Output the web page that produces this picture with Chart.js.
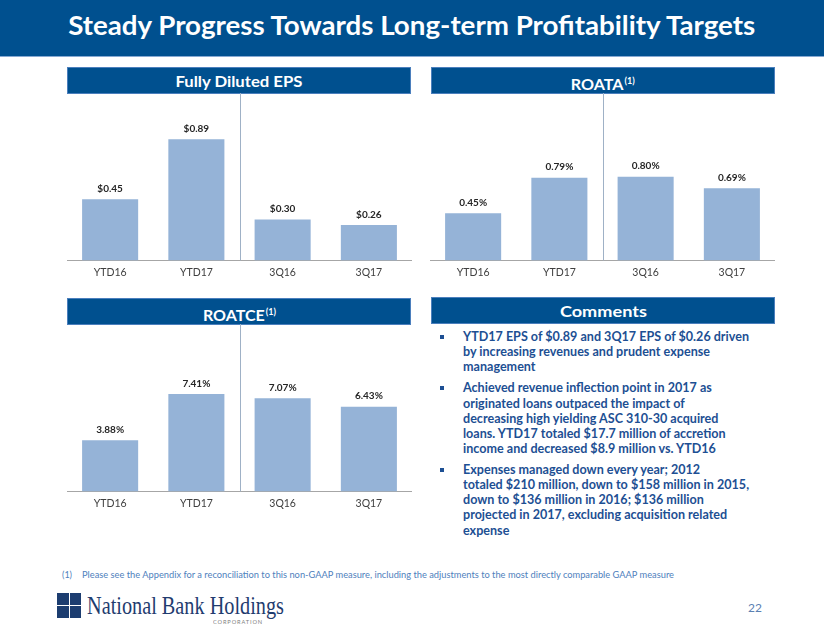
<!DOCTYPE html>
<html>
<head>
<meta charset="utf-8">
<script src="https://cdn.jsdelivr.net/npm/chart.js@4.4.0/dist/chart.umd.min.js"></script>
<style>
  body { margin: 0; width: 824px; height: 637px; background: #fff; position: relative; overflow: hidden; font-family: Lato, "Open Sans", sans-serif; }
  .abs { position: absolute; }
  .fit { display: inline-block; white-space: nowrap; }
  #title { left: 0; top: 0; width: 824px; height: 56px; background: #00508f; border-bottom: 1px solid #86a9d3; text-align: center; color: #fff; font-weight: bold; font-size: 27px; line-height: 50px; }
  .hdr { position: absolute; height: 27px; background: #00508f; border: 1px solid #4b7fbd; box-sizing: border-box; color: #fff; font-weight: bold; font-size: 16px; text-align: center; line-height: 25px; }
  .hdr sup { font-size: 9px; vertical-align: 6px; margin-left: 1px; }
  canvas { position: absolute; }
  #comments { left: 431px; top: 329px; width: 344px; color: #1d4f93; font-weight: bold; font-size: 13px; line-height: 15.1px; }
  #comments .item { position: relative; padding-left: 32px; margin-bottom: 6.2px; }
  #comments .item::before { content: ""; position: absolute; left: 9px; top: 6px; width: 4px; height: 4px; background: #1d4f93; }
  #comments .ln { display: block; white-space: nowrap; transform-origin: left center; }
  .note { color: #4f81bd; font-size: 9px; line-height: 11px; white-space: nowrap; }
  .sq { position: absolute; width: 11.5px; height: 12px; background: #1c3d70; }
</style>
</head>
<body>

<div id="title" class="abs"><span class="fit" data-w="687">Steady Progress Towards Long-term Profitability Targets</span></div>

<div class="hdr" style="left:67px;top:67px;width:344px;"><span class="fit" data-w="127">Fully Diluted EPS</span></div>
<div class="hdr" style="left:431px;top:67px;width:344px;"><span class="fit" data-w="64">ROATA<sup>(1)</sup></span></div>
<div class="hdr" style="left:67px;top:298px;width:344px;"><span class="fit" data-w="73">ROATCE<sup>(1)</sup></span></div>
<div class="hdr" style="left:431px;top:297px;width:344px;"><span class="fit" data-w="87">Comments</span></div>

<canvas id="epsChart" width="345" height="192" style="left:67px;top:93px;"></canvas>
<canvas id="roataChart" width="345" height="192" style="left:430px;top:93px;"></canvas>
<canvas id="roatceChart" width="345" height="192" style="left:67px;top:324px;"></canvas>

<div id="comments" class="abs">
  <div class="item">
    <span class="ln">YTD17 EPS of $0.89 and 3Q17 EPS of $0.26 driven</span>
    <span class="ln">by increasing revenues and prudent expense</span>
    <span class="ln">management</span>
  </div>
  <div class="item">
    <span class="ln">Achieved revenue inflection point in 2017 as</span>
    <span class="ln">originated loans outpaced the impact of</span>
    <span class="ln">decreasing high yielding ASC 310-30 acquired</span>
    <span class="ln">loans. YTD17 totaled $17.7 million of accretion</span>
    <span class="ln">income and decreased $8.9 million vs. YTD16</span>
  </div>
  <div class="item">
    <span class="ln">Expenses managed down every year; 2012</span>
    <span class="ln">totaled $210 million, down to $158 million in 2015,</span>
    <span class="ln">down to $136 million in 2016; $136 million</span>
    <span class="ln">projected in 2017, excluding acquisition related</span>
    <span class="ln">expense</span>
  </div>
</div>

<div class="abs note" style="left:62px;top:569px;">(1)</div>
<div class="abs note" style="left:82px;top:569px;"><span class="fit" data-w="592" style="transform-origin:left center;">Please see the Appendix for a reconciliation to this non-GAAP measure, including the adjustments to the most directly comparable GAAP measure</span></div>

<div class="sq" style="left:57px;top:593px;"></div>
<div class="sq" style="left:69.5px;top:593px;"></div>
<div class="sq" style="left:57px;top:606px;"></div>
<div class="sq" style="left:69.5px;top:606px;"></div>
<div class="abs" style="left:87px;top:593px;font-family:'Liberation Serif',serif;font-size:25px;line-height:25px;color:#1f3c6f;"><span class="fit" data-w="197" style="transform-origin:left center;">National Bank Holdings</span></div>
<div class="abs" style="left:213px;top:618px;font-size:6.5px;line-height:8px;color:#808080;letter-spacing:1px;"><span class="fit" data-w="50" style="transform-origin:left center;">CORPORATION</span></div>
<div class="abs" style="left:748px;top:601px;font-size:12px;line-height:14px;color:#5b80b2;">22</div>

<script>
// Chart data
const categories = ['YTD16', 'YTD17', '3Q16', '3Q17'];
const epsValues = [0.45, 0.89, 0.30, 0.26];
const roataValues = [0.45, 0.79, 0.80, 0.69];
const roatceValues = [3.88, 7.41, 7.07, 6.43];
const epsMax = 1.23;
const roataMax = 1.6;
const roatceMax = 12.72;

// Value labels above the bars
const valueLabels = {
    id: 'valueLabels',
    afterDatasetsDraw(chart, args, opts) {
        const ctx = chart.ctx;
        const meta = chart.getDatasetMeta(0);
        ctx.save();
        ctx.font = 'bold 10px Lato';
        ctx.fillStyle = '#262626';
        ctx.textAlign = 'center';
        ctx.textBaseline = 'middle';
        meta.data.forEach((bar, i) => {
            const v = chart.data.datasets[0].data[i];
            ctx.fillText(opts.prefix + v.toFixed(2) + opts.suffix, bar.x, bar.y - 10.5);
        });
        ctx.restore();
    }
};

// Thin divider between the YTD and quarterly bars
const splitLine = {
    id: 'splitLine',
    beforeDatasetsDraw(chart) {
        const x = chart.scales.x;
        const px = Math.round((x.getPixelForValue(1) + x.getPixelForValue(2)) / 2) + 0.5;
        const ctx = chart.ctx;
        ctx.save();
        ctx.strokeStyle = '#9fb1c6';
        ctx.lineWidth = 1;
        ctx.beginPath();
        ctx.moveTo(px, chart.chartArea.top);
        ctx.lineTo(px, chart.chartArea.bottom);
        ctx.stroke();
        ctx.restore();
    }
};

function createBarChart(id, values, yMax, prefix, suffix) {
    const ctx = document.getElementById(id).getContext('2d');
    new Chart(ctx, {
        type: 'bar',
        data: {
            labels: categories,
            datasets: [{
                data: values,
                backgroundColor: '#95b3d7',
                borderWidth: 0,
                categoryPercentage: 1,
                barPercentage: 0.65
            }]
        },
        options: {
            responsive: false,
            animation: false,
            layout: { padding: 0 },
            plugins: {
                legend: { display: false },
                tooltip: { enabled: false },
                valueLabels: { prefix: prefix, suffix: suffix }
            },
            scales: {
                x: {
                    grid: { display: false, drawTicks: false },
                    border: { display: true, color: '#a6a6a6', width: 1 },
                    ticks: { color: '#404040', font: { family: 'Lato', size: 10.5 }, padding: 6 }
                },
                y: { display: false, min: 0, max: yMax }
            }
        },
        plugins: [splitLine, valueLabels]
    });
}

function fitTexts() {
    document.querySelectorAll('.fit').forEach(el => {
        const w = parseFloat(el.dataset.w);
        const actual = el.getBoundingClientRect().width;
        if (actual > 0) el.style.transform = 'scaleX(' + (w / actual) + ')';
    });
    // comment lines share one squeeze factor, taken from the first line
    const lines = document.querySelectorAll('#comments .ln');
    const range = document.createRange();
    range.selectNodeContents(lines[0]);
    const k = 286 / range.getBoundingClientRect().width;
    lines.forEach(l => { l.style.transform = 'scaleX(' + k + ')'; });
}

document.addEventListener('DOMContentLoaded', function() {
    Chart.defaults.font.family = 'Lato';
    createBarChart('epsChart', epsValues, epsMax, '$', '');
    createBarChart('roataChart', roataValues, roataMax, '', '%');
    createBarChart('roatceChart', roatceValues, roatceMax, '', '%');
    fitTexts();
});
</script>
</body>
</html>
